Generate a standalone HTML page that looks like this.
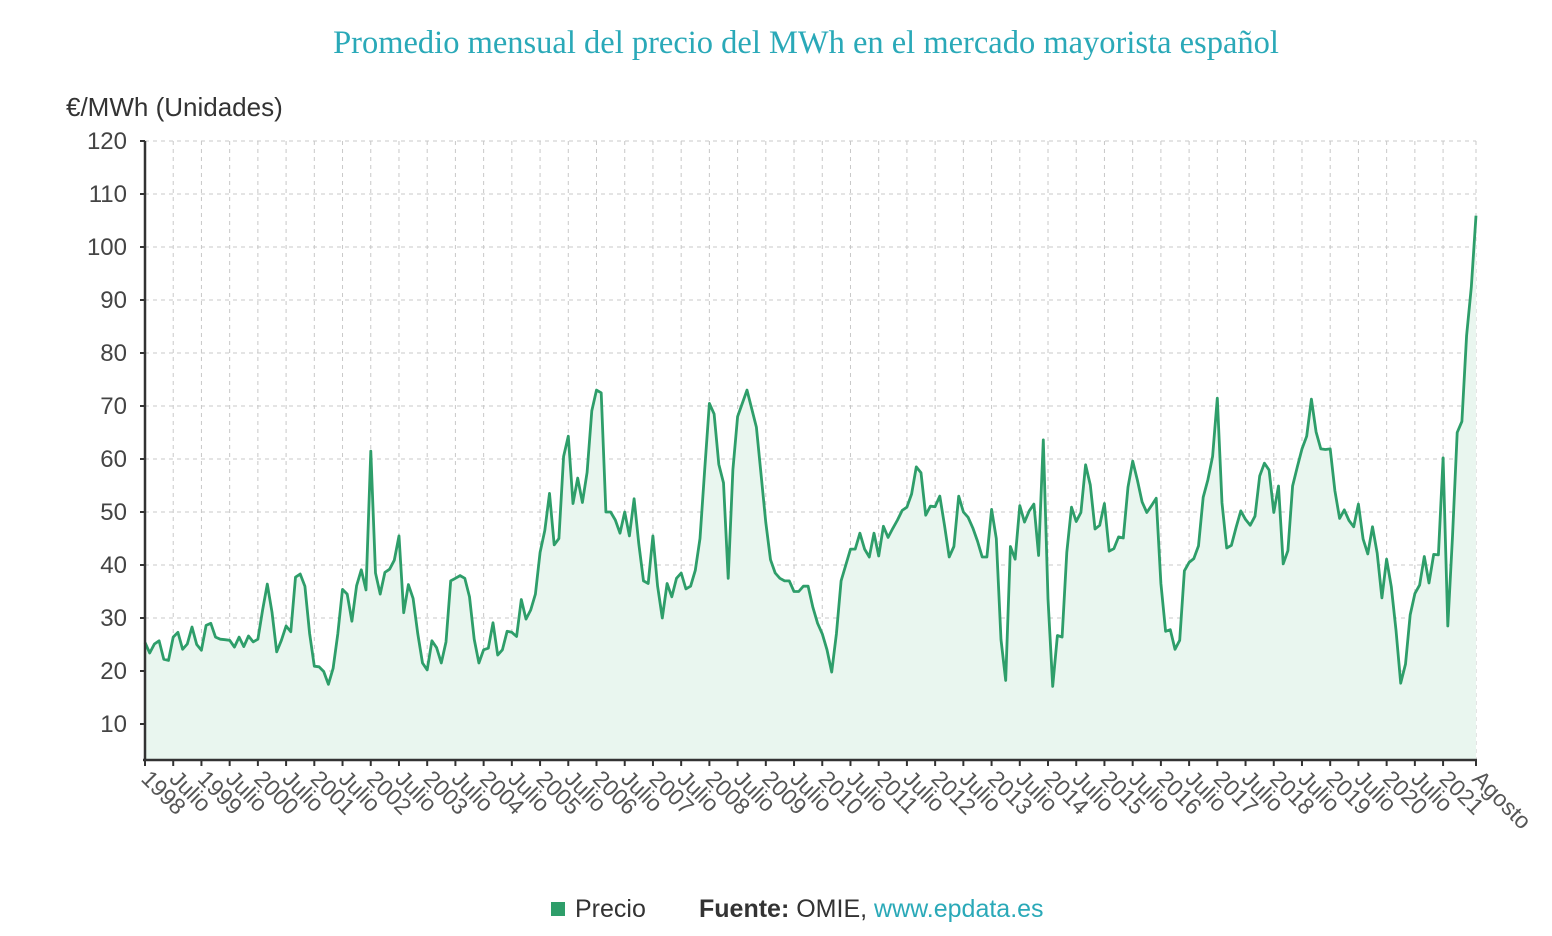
<!DOCTYPE html>
<html><head><meta charset="utf-8"><style>
body{margin:0;background:#fff;}
svg{display:block;font-family:"Liberation Sans",sans-serif;}
</style></head><body>
<svg id="chart" width="1552" height="936" viewBox="0 0 1552 936" xmlns="http://www.w3.org/2000/svg">
<text x="806" y="53" text-anchor="middle" font-family="Liberation Serif, serif" font-size="32.5" fill="#2aa9b8">Promedio mensual del precio del MWh en el mercado mayorista español</text>
<text x="66" y="116" font-size="26" fill="#333">€/MWh (Unidades)</text>
<g id="grid"></g>
<g id="series"></g>
<g id="axes"></g>
<g>
<rect x="551" y="902" width="14" height="14" fill="#2e9e6a"/>
<text x="575" y="917" font-size="25" fill="#333">Precio</text>
<text x="699" y="917" font-size="25" fill="#333"><tspan font-weight="bold">Fuente:</tspan> OMIE, <tspan fill="#2aa9b8">www.epdata.es</tspan></text>
</g>
</svg>
<script>
const yTicks=[10,20,30,40,50,60,70,80,90,100,110,120];
const startYear=1998;
const prices=[
25.4,23.4,25.1,25.7,22.2,22.0,26.4,27.3,24.1,25.1,28.3,25.0,
23.9,28.6,29.0,26.4,26.0,25.9,25.8,24.5,26.4,24.6,26.6,25.5,
26.0,31.5,36.4,31.1,23.6,25.8,28.5,27.4,37.7,38.3,36.0,27.1,
20.9,20.8,19.9,17.5,20.5,27.0,35.4,34.5,29.4,36.1,39.1,35.3,
61.5,38.5,34.5,38.6,39.2,40.9,45.5,31.0,36.3,33.7,27.0,21.5,
20.2,25.7,24.4,21.5,25.5,37.0,37.5,38.0,37.5,34.0,26.0,21.5,
24.0,24.3,29.1,23.0,24.0,27.5,27.3,26.5,33.5,29.8,31.5,34.5,
42.4,46.5,53.5,43.8,45.0,60.5,64.3,51.6,56.4,51.8,57.5,69.1,
73.0,72.5,50.0,50.0,48.5,46.0,50.0,45.5,52.5,44.0,37.0,36.5,
45.5,36.0,30.0,36.5,34.0,37.5,38.5,35.5,36.0,39.0,45.0,58.0,
70.5,68.5,59.0,55.5,37.5,58.0,68.0,70.5,73.0,69.5,66.0,57.0,
48.0,41.0,38.5,37.5,37.0,37.0,35.0,35.0,36.0,36.0,32.0,29.0,
27.0,24.0,19.8,27.0,37.0,40.0,43.0,43.0,46.0,43.0,41.5,46.0,
41.7,47.3,45.2,46.9,48.5,50.3,50.9,53.4,58.5,57.4,49.4,51.1,
51.0,53.0,47.5,41.5,43.5,53.0,50.0,49.0,47.0,44.5,41.5,41.5,
50.5,45.0,25.9,18.2,43.5,41.1,51.2,48.1,50.2,51.5,41.8,63.6,
33.6,17.1,26.7,26.4,42.4,50.9,48.2,49.9,58.9,55.1,46.8,47.5,
51.6,42.6,43.1,45.3,45.1,54.7,59.6,56.0,51.9,49.9,51.2,52.6,
36.5,27.5,27.8,24.1,25.8,38.9,40.5,41.2,43.6,52.8,56.1,60.5,
71.5,51.7,43.2,43.7,47.1,50.2,48.6,47.5,49.2,56.8,59.2,57.9,
49.9,54.9,40.2,42.7,54.9,58.5,61.9,64.3,71.3,65.1,61.9,61.8,
61.9,54.0,48.8,50.4,48.4,47.2,51.5,44.9,42.1,47.2,42.2,33.8,
41.1,35.9,27.7,17.7,21.3,30.6,34.6,36.2,41.6,36.6,42.0,41.9,
60.2,28.5,45.4,65.0,67.1,83.3,92.4,105.9];
const lastLabel="Agosto";

const NS="http://www.w3.org/2000/svg";
const X0=145,X1=1476,YB=760,YT=141;
const n=prices.length;
const xs=i=>X0+(X1-X0)*i/(n-1);
const ys=v=>YT+(120-v)*(724-141)/110;
function mk(tag,attrs,parent){const e=document.createElementNS(NS,tag);for(const k in attrs)e.setAttribute(k,attrs[k]);parent.appendChild(e);return e;}
const grid=document.getElementById('grid'),axes=document.getElementById('axes'),series=document.getElementById('series');

yTicks.forEach(t=>{
  const y=ys(t);
  const gl=mk('line',{x1:X0,x2:X1,y1:y,y2:y,stroke:'#c8c8c8','stroke-dasharray':'4,4','stroke-width':1},grid);
  
  
  const tk=mk('line',{x1:X0-5,x2:X0,y1:y,y2:y,stroke:'#333','stroke-width':2},axes);
  
  
  const tl=mk('text',{x:127,y:y+8,'text-anchor':'end','font-size':24,fill:'#444'},axes);
  
  
  tl.textContent=t;
});

const xLabels=[],xIdx=[];
for(let i=0;i<n-6;i+=6){xIdx.push(i);xLabels.push(i%12===0?String(startYear+i/12):"Julio");}
xIdx.push(n-1);xLabels.push(lastLabel);
xIdx.forEach((i,k)=>{
  const x=xs(i);
  const gl=mk('line',{x1:x,x2:x,y1:YT,y2:YB,stroke:'#c8c8c8','stroke-dasharray':'4,4','stroke-width':1},grid);
  
  
  const tk=mk('line',{x1:x,x2:x,y1:YB,y2:YB+6,stroke:'#333','stroke-width':2},axes);
  
  
  const tl=mk('text',{x:0,y:0,'font-size':23,fill:'#555',transform:`translate(${x-5},${YB+20}) rotate(45)`},axes);
  
  
  tl.textContent=xLabels[k];
});

let d='';prices.forEach((v,i)=>{d+=(i?'L':'M')+xs(i).toFixed(1)+','+ys(v).toFixed(1);});
const area=mk('path',{d:d+`L${X1},${YB}L${X0},${YB}Z`,fill:'#e9f6ef'},series);


const line=mk('path',{d:d,fill:'none',stroke:'#2e9e6a','stroke-width':2.8,'stroke-linejoin':'round'},series);



const ya=mk('line',{x1:X0,x2:X0,y1:YT,y2:YB,stroke:'#333','stroke-width':2.5},axes);


const xa=mk('line',{x1:X0-2,x2:X1+1,y1:YB,y2:YB,stroke:'#333','stroke-width':2.5},axes);


</script>
</body></html>
